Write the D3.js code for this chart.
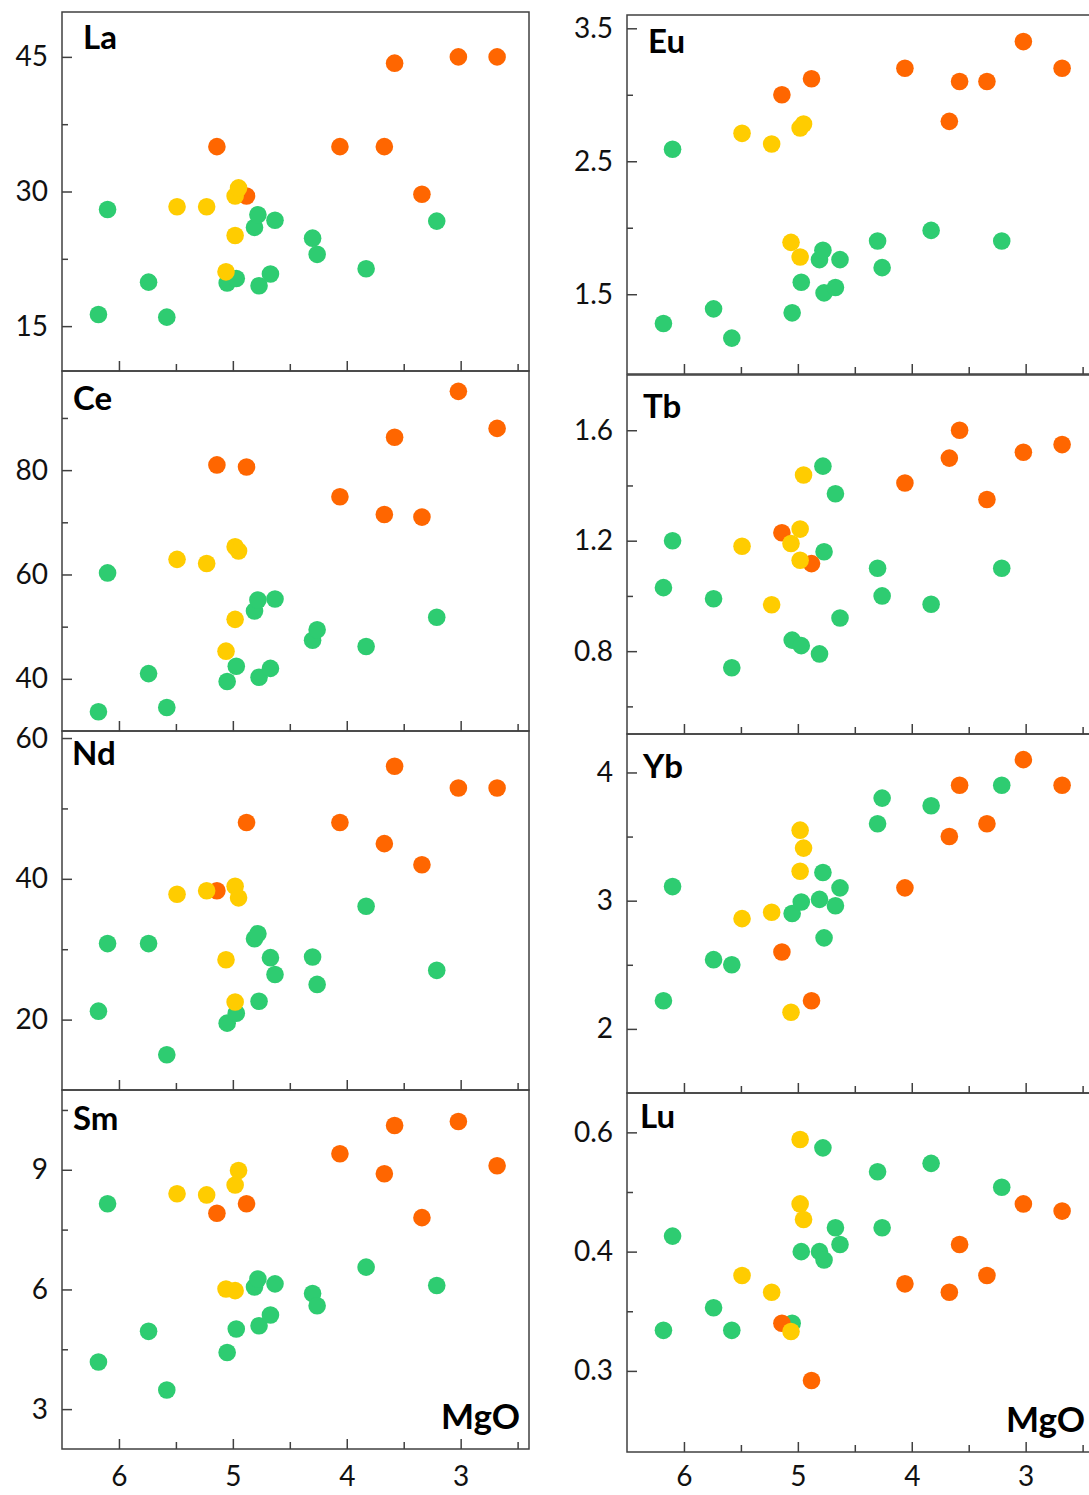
<!DOCTYPE html>
<html><head><meta charset="utf-8">
<script src="https://cdn.jsdelivr.net/npm/d3@7/dist/d3.min.js"></script>
<style>
body{margin:0;background:#fff}
svg text{font-family:Lato,"Open Sans","Noto Sans",sans-serif}
</style>
</head><body>
<svg id="chart" width="1089" height="1495"></svg>
<script>
// ---------------- DATA ----------------
const groups = ["green", "orange", "yellow"]; // draw order
const groupColors = {green: "#2ecc71", orange: "#ff6600", yellow: "#ffcc00"};

// MgO (wt%) of each sample, per group
const mgoGreen  = [6.18, 6.10, 5.74, 5.58, 5.05, 4.97, 4.81, 4.78, 4.77, 4.67, 4.63, 4.30, 4.26, 3.83, 3.21];
const mgoOrange = [5.14, 4.88, 4.06, 3.67, 3.58, 3.34, 3.02, 2.68];
const mgoYellow = [5.49, 5.23, 5.06, 4.98, 4.98, 4.95];

// element concentrations, same sample order
const laGreen  = [16.3, 28.0, 19.9, 16.0, 19.8, 20.3, 26.0, 27.4, 19.5, 20.8, 26.8, 24.8, 23.0, 21.4, 26.7];
const laOrange = [35.0, 29.5, 35.0, 35.0, 44.3, 29.7, 45.0, 45.0];
const laYellow = [28.3, 28.3, 21.05, 29.5, 25.1, 30.4];

const ceGreen  = [33.7, 60.3, 41.0, 34.5, 39.5, 42.4, 53.0, 55.1, 40.3, 42.0, 55.3, 47.4, 49.4, 46.2, 51.8];
const ceOrange = [81.0, 80.6, 74.9, 71.5, 86.3, 71.0, 95.1, 88.0];
const ceYellow = [62.9, 62.1, 45.3, 65.3, 51.4, 64.5];

const ndGreen  = [21.2, 30.8, 30.8, 15.0, 19.5, 20.9, 31.5, 32.2, 22.6, 28.8, 26.4, 28.9, 25.0, 36.1, 27.0];
const ndOrange = [38.3, 48.0, 48.0, 45.0, 56.0, 42.0, 52.9, 52.9];
const ndYellow = [37.8, 38.3, 28.5, 38.95, 22.5, 37.3];

const smGreen  = [4.18, 8.15, 4.95, 3.48, 4.42, 5.01, 6.06, 6.26, 5.09, 5.36, 6.14, 5.90, 5.59, 6.56, 6.10];
const smOrange = [7.91, 8.15, 9.40, 8.90, 10.11, 7.80, 10.21, 9.10];
const smYellow = [8.40, 8.37, 6.01, 8.62, 5.97, 8.98];

const euGreen  = [1.28, 2.59, 1.39, 1.17, 1.36, 1.59, 1.76, 1.83, 1.51, 1.55, 1.76, 1.90, 1.70, 1.98, 1.90];
const euOrange = [3.00, 3.12, 3.20, 2.80, 3.10, 3.10, 3.40, 3.20];
const euYellow = [2.71, 2.63, 1.89, 2.75, 1.78, 2.78];

const tbGreen  = [1.03, 1.20, 0.99, 0.74, 0.84, 0.82, 0.79, 1.47, 1.16, 1.37, 0.92, 1.10, 1.00, 0.97, 1.10];
const tbOrange = [1.229, 1.117, 1.409, 1.499, 1.600, 1.349, 1.520, 1.548];
const tbYellow = [1.18, 0.968, 1.19, 1.242, 1.129, 1.438];

const ybGreen  = [2.22, 3.11, 2.54, 2.50, 2.90, 2.99, 3.01, 3.22, 2.71, 2.96, 3.10, 3.60, 3.80, 3.74, 3.90];
const ybOrange = [2.60, 2.22, 3.10, 3.50, 3.90, 3.60, 4.10, 3.90];
const ybYellow = [2.86, 2.91, 2.13, 3.55, 3.23, 3.41];

const luGreen  = [0.334, 0.413, 0.353, 0.334, 0.340, 0.400, 0.400, 0.487, 0.393, 0.420, 0.406, 0.467, 0.420, 0.474, 0.454];
const luOrange = [0.340, 0.292, 0.373, 0.366, 0.406, 0.380, 0.440, 0.434];
const luYellow = [0.380, 0.366, 0.333, 0.494, 0.440, 0.427];

// tick values and labels
const xTicks = [6, 5, 4, 3];
const xTickLabels = ["6", "5", "4", "3"];
const xMinorTicks = [5.5, 4.5, 3.5, 2.5];
const xAxisTitle = "MgO";

const laTicks = [15, 30, 45],     laTickLabels = ["15", "30", "45"],   laMinor = [22.5, 37.5];
const ceTicks = [40, 60, 80],     ceTickLabels = ["40", "60", "80"],   ceMinor = [50, 70, 90];
const ndTicks = [20, 40, 60],     ndTickLabels = ["20", "40", "60"],   ndMinor = [30, 50];
const smTicks = [3, 6, 9],        smTickLabels = ["3", "6", "9"],      smMinor = [4.5, 7.5, 10.5];
const euTicks = [1.5, 2.5, 3.5],  euTickLabels = ["1.5", "2.5", "3.5"], euMinor = [2.0, 3.0];
const tbTicks = [0.8, 1.2, 1.6],  tbTickLabels = ["0.8", "1.2", "1.6"], tbMinor = [0.6, 1.0, 1.4];
const ybTicks = [2, 3, 4],        ybTickLabels = ["2", "3", "4"],      ybMinor = [2.5, 3.5];
const luTicks = [0.3, 0.4, 0.5],  luTickLabels = ["0.3", "0.4", "0.6"], luMinor = [0.35, 0.45];

// ---------------- LAYOUT ----------------
const colX = [[62, 529], [627, 1094]];
const rowY = {
  La: [12, 371], Ce: [371, 731], Nd: [731, 1090], Sm: [1090, 1449],
  Eu: [15, 374], Tb: [375, 734], Yb: [734, 1093], Lu: [1093, 1452]
};
const xDomain = [6.5, 2.4];

const panels = [
  {name: "La", col: 0, bottom: false, dom: [10, 50],     ticks: laTicks, labels: laTickLabels, minor: laMinor, data: {green: laGreen, orange: laOrange, yellow: laYellow}, lab: [21, 37]},
  {name: "Ce", col: 0, bottom: false, dom: [30, 99],     ticks: ceTicks, labels: ceTickLabels, minor: ceMinor, data: {green: ceGreen, orange: ceOrange, yellow: ceYellow}, lab: [11, 39]},
  {name: "Nd", col: 0, bottom: false, dom: [10, 61],     ticks: ndTicks, labels: ndTickLabels, minor: ndMinor, data: {green: ndGreen, orange: ndOrange, yellow: ndYellow}, lab: [10, 34]},
  {name: "Sm", col: 0, bottom: true,  dom: [2, 11],      ticks: smTicks, labels: smTickLabels, minor: smMinor, data: {green: smGreen, orange: smOrange, yellow: smYellow}, lab: [11, 40]},
  {name: "Eu", col: 1, bottom: false, dom: [0.9, 3.6],   ticks: euTicks, labels: euTickLabels, minor: euMinor, data: {green: euGreen, orange: euOrange, yellow: euYellow}, lab: [21, 38]},
  {name: "Tb", col: 1, bottom: false, dom: [0.5, 1.8],   ticks: tbTicks, labels: tbTickLabels, minor: tbMinor, data: {green: tbGreen, orange: tbOrange, yellow: tbYellow}, lab: [16, 43]},
  {name: "Yb", col: 1, bottom: false, dom: [1.5, 4.3],   ticks: ybTicks, labels: ybTickLabels, minor: ybMinor, data: {green: ybGreen, orange: ybOrange, yellow: ybYellow}, lab: [16, 44]},
  {name: "Lu", col: 1, bottom: true,  dom: [0.232, 0.533], ticks: luTicks, labels: luTickLabels, minor: luMinor, data: {green: luGreen, orange: luOrange, yellow: luYellow}, lab: [13, 35]}
];
const mgo = {green: mgoGreen, orange: mgoOrange, yellow: mgoYellow};

const lineColor = "#404040";
const svg = d3.select("#chart");
svg.append("rect").attr("width", 1089).attr("height", 1495).attr("fill", "#fff");

panels.forEach(p => {
  const [x0, x1] = colX[p.col];
  const [y0, y1] = rowY[p.name];
  const x = d3.scaleLinear().domain(xDomain).range([x0, x1]);
  const y = d3.scaleLinear().domain(p.dom).range([y1, y0]);
  const g = svg.append("g");

  // points
  groups.forEach(k => {
    g.append("g").selectAll("circle")
      .data(d3.zip(mgo[k], p.data[k]))
      .join("circle")
      .attr("cx", d => x(d[0]))
      .attr("cy", d => y(d[1]))
      .attr("r", 8.8)
      .attr("fill", groupColors[k]);
  });

  // y axis (inward ticks)
  const yAx = g.append("g").attr("transform", `translate(${x0},0)`)
    .call(d3.axisLeft(y).tickValues(p.ticks).tickSize(-10).tickPadding(14)
      .tickFormat((d, i) => p.labels[i]));
  const yMin = g.append("g").attr("transform", `translate(${x0},0)`)
    .call(d3.axisLeft(y).tickValues(p.minor).tickSize(-6).tickFormat(""));

  // x axis (inward ticks at bottom)
  const xAx = g.append("g").attr("transform", `translate(0,${y1})`)
    .call(d3.axisBottom(x).tickValues(xTicks).tickSize(-10).tickPadding(p.col === 0 ? 17 : 14)
      .tickFormat((d, i) => p.bottom ? xTickLabels[i] : ""));
  const xMin = g.append("g").attr("transform", `translate(0,${y1})`)
    .call(d3.axisBottom(x).tickValues(xMinorTicks).tickSize(-7).tickFormat(""));

  [yAx, yMin, xAx, xMin].forEach(a => {
    a.select(".domain").remove();
    a.selectAll("line").attr("stroke", lineColor).attr("stroke-width", 1.5);
    a.selectAll("text").attr("font-size", 28).attr("fill", "#111")
      .attr("font-family", "Lato, 'Open Sans', sans-serif");
  });

  // frame
  g.append("rect").attr("x", x0).attr("y", y0).attr("width", x1 - x0).attr("height", y1 - y0)
    .attr("fill", "none").attr("stroke", lineColor).attr("stroke-width", 1.5);

  // element label
  g.append("text").attr("x", x0 + p.lab[0]).attr("y", y0 + p.lab[1])
    .attr("font-size", 33).attr("font-weight", "bold").attr("fill", "#000")
    .text(p.name);

  if (p.bottom) {
    g.append("text").attr("x", x1 - 9).attr("y", y1 - 20)
      .attr("text-anchor", "end").attr("font-size", 35).attr("font-weight", "bold").attr("fill", "#000")
      .text(xAxisTitle);
  }
});
</script>
</body></html>
